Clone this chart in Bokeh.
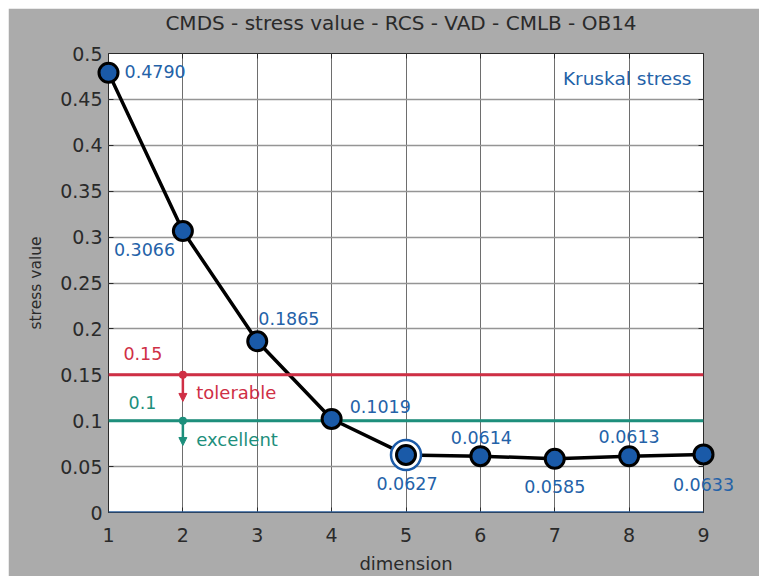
from bokeh.plotting import figure
from bokeh.models import (ColumnDataSource, FixedTicker, LinearAxis, Range1d,
                          Span, Arrow, NormalHead, Spacer,
                          CustomLabelingPolicy)
from bokeh.layouts import row, column
from bokeh.embed import file_html
from bokeh.resources import INLINE
from bokeh.core.properties import value

# Kruskal stress per embedding dimension
dimension = [1, 2, 3, 4, 5, 6, 7, 8, 9]
stress = [0.4790, 0.3066, 0.1865, 0.1019, 0.0627, 0.0614, 0.0585, 0.0613, 0.0633]
stress_labels = ["0.4790", "0.3066", "0.1865", "0.1019", "0.0627",
                 "0.0614", "0.0585", "0.0613", "0.0633"]
chosen_dimension = 5

# quality thresholds
tolerable_limit = 0.15
excellent_limit = 0.1

x_ticks = [1, 2, 3, 4, 5, 6, 7, 8, 9]
y_ticks = [0, 0.05, 0.1, 0.15, 0.2, 0.25, 0.3, 0.35, 0.4, 0.45, 0.5]
y_tick_labels = ["0", "0.05", "0.1", "0.15", "0.2", "0.25", "0.3", "0.35",
                 "0.4", "0.45", "0.5"]

chart_title = "CMDS - stress value - RCS - VAD - CMLB - OB14"

FONT = "DejaVu Sans"
BG = "#ababab"
INK = "#2a2a2a"
BLUE_TXT = "#2462a8"
MARK_BLUE = "#1a5aa8"
RED = "#cf2f45"
TEAL = "#1d8f7c"

X_MIN, X_MAX = 1, 9
Y_MIN, Y_MAX = 0, 0.5

p = figure(width=751, height=568, output_backend="svg", toolbar_location=None,
           x_range=Range1d(X_MIN, X_MAX), y_range=Range1d(Y_MIN, Y_MAX),
           min_border_left=100, min_border_right=56,
           min_border_top=45, min_border_bottom=63)
p.border_fill_color = BG
p.background_fill_color = "white"
p.outline_line_color = INK
p.outline_line_width = 1

# axes: MATLAB-like ticks pointing inward
for ax in (p.xaxis[0], p.yaxis[0]):
    ax.major_tick_in = 5
    ax.major_tick_out = 0
    ax.minor_tick_line_color = None
    ax.axis_line_color = None
    ax.major_tick_line_color = INK
    ax.major_label_text_font = FONT
    ax.major_label_text_font_size = "19px"
    ax.major_label_text_color = INK
    ax.axis_label_text_font = FONT
    ax.axis_label_text_font_style = "normal"
    ax.axis_label_text_color = INK

p.xaxis.ticker = FixedTicker(ticks=x_ticks)
p.yaxis.ticker = FixedTicker(ticks=y_ticks)
p.yaxis.major_label_overrides = {t: s for t, s in zip(y_ticks, y_tick_labels)}
p.xaxis.axis_label = "dimension"
p.xaxis.axis_label_text_font_size = "18px"
p.xaxis.major_label_standoff = 15
p.xaxis.axis_label_standoff = 8
p.yaxis.axis_label = "stress value"
p.yaxis.axis_label_text_font_size = "15.5px"
p.yaxis.major_label_standoff = 6
p.yaxis.axis_label_standoff = 12

# box ticks on the top and right sides, without labels
no_labels = CustomLabelingPolicy(
    code="for (const i of Array.from(indices)) { indices.unset(i) }\nreturn indices")
for ticks, side in ((x_ticks, "above"), (y_ticks, "right")):
    box_axis = LinearAxis(ticker=FixedTicker(ticks=ticks), major_tick_in=5,
                          major_tick_out=0, minor_tick_line_color=None,
                          axis_line_color=None, major_tick_line_color=INK,
                          major_label_policy=no_labels,
                          major_label_text_font_size="0px",
                          major_label_standoff=0)
    p.add_layout(box_axis, side)

p.xgrid.ticker = FixedTicker(ticks=x_ticks)
p.ygrid.ticker = FixedTicker(ticks=y_ticks)
p.xgrid.grid_line_color = "#6e6e6e"
p.ygrid.grid_line_color = "#959595"
p.xgrid.grid_line_width = 1
p.ygrid.grid_line_width = 1.3

# threshold lines and zero baseline
p.add_layout(Span(location=tolerable_limit, dimension="width",
                  line_color=RED, line_width=3))
p.add_layout(Span(location=excellent_limit, dimension="width",
                  line_color=TEAL, line_width=3))
p.add_layout(Span(location=0, dimension="width",
                  line_color="#2a5c9a", line_width=2.5))


def note(xs, ys, texts, color, dx=0, dy=0, size="18px", align="left"):
    """Text drawn on the overlay level, so it may run past the frame edge."""
    p.text(x=xs, y=ys, text=texts, x_offset=dx, y_offset=dy,
           text_font=value(FONT), text_font_size=size, text_color=color,
           text_align=align, text_baseline="middle", level="overlay")


# title centred above the frame
note([(X_MIN + X_MAX) / 2], [Y_MAX], [chart_title], INK, dx=-5, dy=-31,
     size="20px", align="center")

note([1.2], [tolerable_limit], ["0.15"], RED, dy=-21, size="17.5px")
note([1.27], [excellent_limit], ["0.1"], TEAL, dy=-18, size="17.5px")
note([2.18], [tolerable_limit], ["tolerable"], RED, dy=18)
note([2.18], [excellent_limit], ["excellent"], TEAL, dy=19)

p.add_layout(Arrow(x_start=2, y_start=tolerable_limit, x_end=2, y_end=0.121,
                   line_color=RED, line_width=2.5,
                   end=NormalHead(size=8, fill_color=RED, line_color=RED)))
p.add_layout(Arrow(x_start=2, y_start=excellent_limit, x_end=2, y_end=0.073,
                   line_color=TEAL, line_width=2.5,
                   end=NormalHead(size=8, fill_color=TEAL, line_color=TEAL)))
p.scatter(x=[2, 2], y=[tolerable_limit, excellent_limit], size=8,
          fill_color=[RED, TEAL], line_color=None)

# stress curve; markers drawn on the overlay level so edge points stay whole
src = ColumnDataSource(dict(x=dimension, y=stress, label=stress_labels))
p.line("x", "y", source=src, line_color="black", line_width=3.5)

sel = [i for i, d in enumerate(dimension) if d == chosen_dimension]
p.scatter(x=[dimension[i] for i in sel], y=[stress[i] for i in sel], size=30,
          fill_color="white", line_color=MARK_BLUE, line_width=2.5,
          level="overlay")
p.scatter("x", "y", source=src, size=19, fill_color=MARK_BLUE,
          line_color="black", line_width=3, level="overlay")

# value labels next to each point (pixel offsets per point)
left_idx = [0, 1, 2, 3]
note([dimension[i] for i in left_idx], [stress[i] for i in left_idx],
     [stress_labels[i] for i in left_idx], BLUE_TXT,
     dx=[16, -69, 1, 18], dy=[-1, 18, -23, -12], size="17.5px", align="left")
mid_idx = [4, 5, 6, 7, 8]
note([dimension[i] for i in mid_idx], [stress[i] for i in mid_idx],
     [stress_labels[i] for i in mid_idx], BLUE_TXT,
     dx=[1, 1, 0, 0, 0], dy=[29, -19, 28, -20, 30], size="17.5px",
     align="center")

note([X_MAX], [Y_MAX], ["Kruskal stress"], BLUE_TXT, dx=-12, dy=25,
     size="18.5px", align="right")

layout = row(Spacer(width=8), column(Spacer(height=8), p))
open("out.html", "w").write(file_html(layout, INLINE))
